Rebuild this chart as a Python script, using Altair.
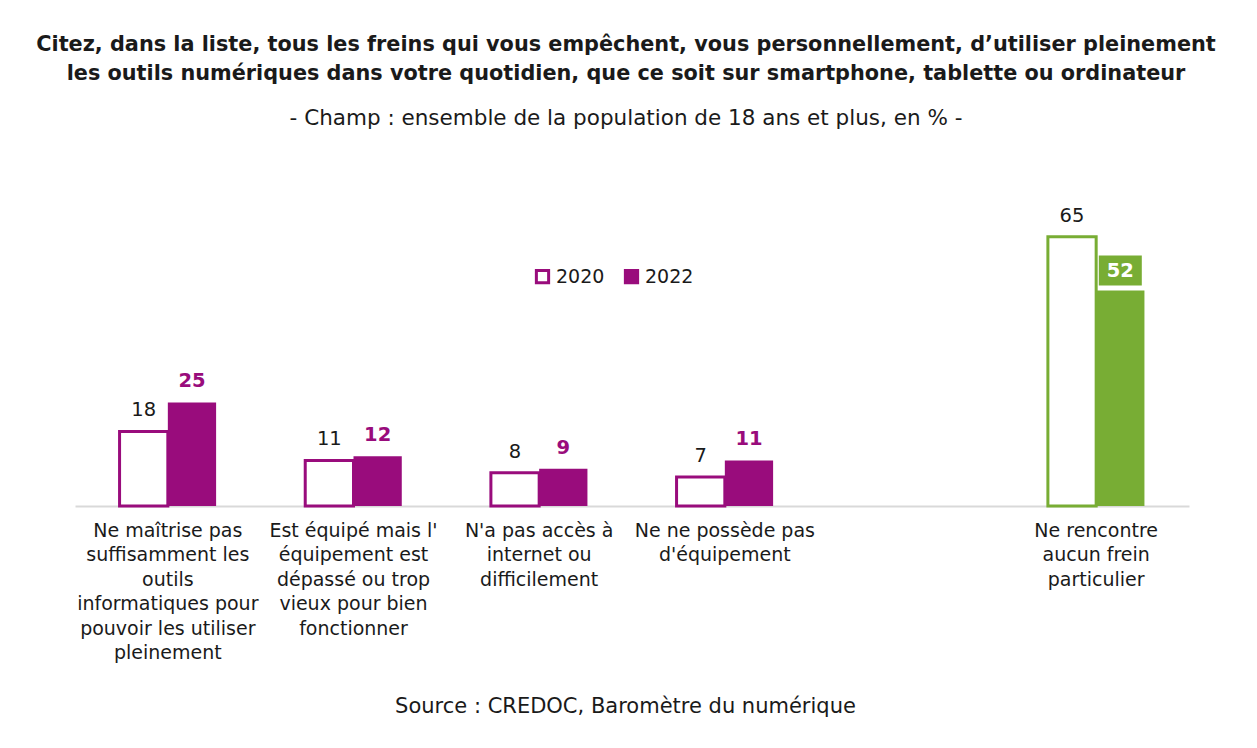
import altair as alt
import pandas as pd

categories = [
    "Ne maîtrise pas|suffisamment les|outils|informatiques pour|pouvoir les utiliser|pleinement",
    "Est équipé mais l'|équipement est|dépassé ou trop|vieux pour bien|fonctionner",
    "N'a pas accès à|internet ou|difficilement",
    "Ne ne possède pas|d'équipement",
    "Ne rencontre|aucun frein|particulier",
]
values_2020 = [18, 11, 8, 7, 65]
values_2022 = [25, 12, 9, 11, 52]
years = ["2020", "2022"]
gap_slot = " "

PURPLE = "#990C7C"
GREEN = "#78AD34"
FONT = "DejaVu Sans"

rows = []
for c, a, b in zip(categories, values_2020, values_2022):
    rows.append({"cat": c, "year": "2020", "value": a})
    rows.append({"cat": c, "year": "2022", "value": b})
df = pd.DataFrame(rows)

last = categories[-1]
x_domain = categories[:4] + [gap_slot] + categories[4:]

x_enc = alt.X(
    "cat:N",
    sort=x_domain,
    scale=alt.Scale(domain=x_domain, paddingInner=0.48, paddingOuter=0.24),
    axis=alt.Axis(
        title="Source : CREDOC, Baromètre du numérique",
        titleFont=FONT,
        titleFontSize=21,
        titleFontWeight="normal",
        titleColor="#1a1a1a",
        titlePadding=33,
        titleX=550,
        labelExpr="split(datum.label, '|')",
        labelAngle=0,
        labelAlign="center",
        labelBaseline="top",
        labelFont=FONT,
        labelFontSize=19,
        labelColor="#1a1a1a",
        labelLineHeight=24.5,
        labelPadding=15,
        labelLimit=400,
        labelOverlap=False,
        ticks=False,
        domainColor="#D9D9D9",
        domainWidth=2,
        grid=False,
    ),
)
xo_enc = alt.XOffset("year:N", scale=alt.Scale(domain=years, paddingInner=0, paddingOuter=0))
y_enc = alt.Y("value:Q", scale=alt.Scale(domain=[0, 70], nice=False), axis=None)

base = alt.Chart(df).encode(x=x_enc, xOffset=xo_enc, y=y_enc)

bars_purple = base.transform_filter(alt.datum.cat != last).mark_bar().encode(
    fill=alt.Fill(
        "year:N",
        scale=alt.Scale(domain=years, range=["white", PURPLE]),
        legend=alt.Legend(
            title=None,
            orient="none",
            legendX=458,
            legendY=51,
            direction="horizontal",
            symbolType="square",
            symbolSize=150,
            symbolStrokeWidth=3,
            labelFont=FONT,
            labelFontSize=19,
            labelColor="#1a1a1a",
            labelOffset=4,
            columnPadding=14,
        ),
    ),
    stroke=alt.Stroke("year:N", scale=alt.Scale(domain=years, range=[PURPLE, PURPLE]), legend=None),
    strokeWidth=alt.condition("datum.year == '2020'", alt.value(3), alt.value(0)),
)

bars_green = base.transform_filter(alt.datum.cat == last).mark_bar(stroke=GREEN).encode(
    fill=alt.condition("datum.year == '2020'", alt.value("white"), alt.value(GREEN)),
    strokeWidth=alt.condition("datum.year == '2020'", alt.value(3), alt.value(0)),
)

text_2020 = base.transform_filter(alt.datum.year == "2020").mark_text(
    dy=-21, baseline="middle", font=FONT, fontSize=19.5, color="#1a1a1a"
).encode(text="value:Q")

text_2022 = base.transform_filter(
    (alt.datum.year == "2022") & (alt.datum.cat != last)
).mark_text(
    dy=-21, baseline="middle", font=FONT, fontSize=19.5, fontWeight="bold", color=PURPLE
).encode(text="value:Q")

green_box = base.transform_filter(
    (alt.datum.year == "2022") & (alt.datum.cat == last)
).mark_bar(yOffset=-35, y2Offset=-5, color=GREEN, width=43).encode(
    y2="value:Q"
)

text_green = base.transform_filter(
    (alt.datum.year == "2022") & (alt.datum.cat == last)
).mark_text(
    dy=-20, baseline="middle", font=FONT, fontSize=19.5, fontWeight="bold", color="white"
).encode(text="value:Q")

chart = alt.layer(bars_purple, bars_green, text_2020, text_2022, green_box, text_green).properties(
    width=1114,
    height=290,
    autosize=alt.AutoSizeParams(type="none"),
    padding={"left": 67, "top": 208, "right": 60, "bottom": 222},
    title=alt.Title(
        text=[
            "Citez, dans la liste, tous les freins qui vous empêchent, vous personnellement, d’utiliser pleinement",
            "les outils numériques dans votre quotidien, que ce soit sur smartphone, tablette ou ordinateur",
        ],
        subtitle="- Champ : ensemble de la population de 18 ans et plus, en % -",
        font=FONT,
        fontSize=20.8,
        fontWeight="bold",
        color="#1a1a1a",
        lineHeight=29,
        subtitleFont=FONT,
        subtitleFontSize=21.5,
        subtitleColor="#1a1a1a",
        subtitlePadding=23,
        anchor="middle",
        frame="group",
        dx=-6,
        offset=75,
    ),
).configure(font=FONT).configure_view(stroke=None)

chart.save("out.html", embed_options={"renderer": "svg", "actions": False})
